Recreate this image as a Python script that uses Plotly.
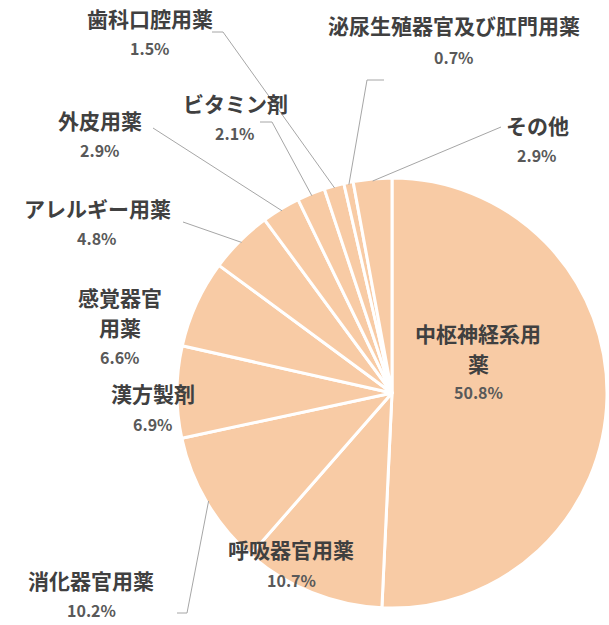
import math
import plotly.graph_objects as go

labels = ["中枢神経系用薬", "呼吸器官用薬", "消化器官用薬", "漢方製剤", "感覚器官用薬",
          "アレルギー用薬", "外皮用薬", "ビタミン剤", "歯科口腔用薬",
          "泌尿生殖器官及び肛門用薬", "その他"]
values = [50.8, 10.7, 10.2, 6.9, 6.6, 4.8, 2.9, 2.1, 1.5, 0.7, 2.9]

W, H = 609, 625
CX, CY, R = 392, 393, 215

wrap = {"中枢神経系用薬": ["中枢神経系用", "薬"], "感覚器官用薬": ["感覚器官", "用薬"]}

# label centre (x, y of first line) and y of the percentage line
label_pos = {
    "中枢神経系用薬": (478, 333, 392),
    "呼吸器官用薬": (291, 549, 580),
    "消化器官用薬": (91, 580, 610),
    "漢方製剤": (153, 393, 424),
    "感覚器官用薬": (120, 297, 357),
    "アレルギー用薬": (97, 208, 238),
    "外皮用薬": (100, 120, 150),
    "ビタミン剤": (235, 103, 133),
    "歯科口腔用薬": (150, 18, 48),
    "泌尿生殖器官及び肛門用薬": (454, 25, 57),
    "その他": (537, 125, 155),
}

# leader line start on the label side
leader_start = {
    "消化器官用薬": [(177, 613), (187, 613)],
    "アレルギー用薬": [(183, 222)],
    "外皮用薬": [(153, 128)],
    "ビタミン剤": [(260, 122), (272, 122)],
    "歯科口腔用薬": [(212, 32), (223, 32)],
    "泌尿生殖器官及び肛門用薬": [(384, 80), (367, 80)],
    "その他": [(501, 127)],
}

fig = go.Figure()

fig.add_trace(go.Pie(
    labels=labels,
    values=values,
    sort=False,
    direction="clockwise",
    rotation=0,
    textinfo="none",
    hoverinfo="label+percent",
    marker=dict(colors=["#F8CBA5"] * len(values), line=dict(color="white", width=3)),
    domain=dict(x=[(CX - R) / W, (CX + R) / W], y=[1 - (CY + R) / H, 1 - (CY - R) / H]),
    showlegend=False,
))

# invisible pixel axes for annotations / leader lines
fig.update_xaxes(range=[0, W], visible=False, fixedrange=True)
fig.update_yaxes(range=[H, 0], visible=False, fixedrange=True)

total = sum(values)
cum = 0
for lab, v in zip(labels, values):
    mid = (cum + v / 2) / total * 2 * math.pi
    cum += v
    x, y, py = label_pos[lab]
    lines = wrap.get(lab, [lab])
    for i, ln in enumerate(lines):
        fig.add_annotation(x=x, y=y + i * 30, text="<b>" + ln + "</b>", showarrow=False,
                           font=dict(size=21, color="#404040"))
    fig.add_annotation(x=x, y=py, text="<b>" + f"{v}%" + "</b>", showarrow=False,
                       font=dict(size=16, color="#595959"))
    if lab in leader_start:
        pts = leader_start[lab] + [(CX + R * 0.99 * math.sin(mid), CY - R * 0.99 * math.cos(mid))]
        path = "M " + " L ".join(f"{px:.1f},{py2:.1f}" for px, py2 in pts)
        fig.add_shape(type="path", path=path, xref="x", yref="y",
                      line=dict(color="#A6A6A6", width=1))

fig.update_layout(
    width=W,
    height=H,
    margin=dict(l=0, r=0, t=0, b=0),
    paper_bgcolor="white",
    plot_bgcolor="rgba(0,0,0,0)",
    font=dict(family="Noto Sans CJK JP, sans-serif"),
)

fig.write_html("out.html", config={"displayModeBar": False},
               post_script="document.body.style.margin='0';")
